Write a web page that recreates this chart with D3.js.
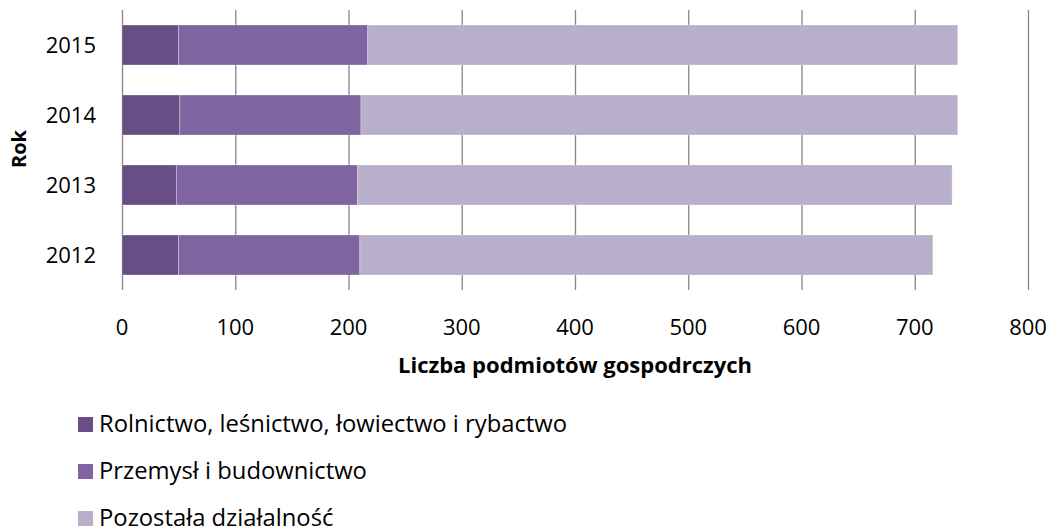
<!DOCTYPE html>
<html><head><meta charset="utf-8">
<script src="https://cdn.jsdelivr.net/npm/d3@7"></script>
<style>body{margin:0;background:#fff}svg{display:block}text{font-family:"Open Sans",sans-serif;fill:#000}</style>
</head><body>
<script>
const years = ["2012","2013","2014","2015"];
const seriesNames = ["Rolnictwo, leśnictwo, łowiectwo i rybactwo","Przemysł i budownictwo","Pozostała działalność"];
const rolnictwo = [50, 48, 51, 50];
const przemysl = [160, 160, 160, 167];
const pozostala = [506, 525, 527, 521];
const xTicks = [0,100,200,300,400,500,600,700,800];
const colors = ["#684E84","#8064A2","#B9AFCA"];

(function(){
const W = 1053, H = 528;
const svg = d3.select("body").append("svg").attr("width", W).attr("height", H);
const mL = 122, mR = 1028, mT = 10, mB = 290;
const x = d3.scaleLinear().domain([0,800]).range([mL,mR]);
const y = d3.scaleBand().domain(years.slice().reverse()).range([mT,mB]).paddingInner(0.4286).paddingOuter(0.2143);

svg.append("g").selectAll("line").data(xTicks).join("line")
  .attr("x1", d=>x(d)+0.5).attr("x2", d=>x(d)+0.5).attr("y1", mT).attr("y2", mB)
  .attr("stroke", "#868686").attr("stroke-width", 1.3);

const data = years.map((yr,i)=>({year:yr, a:rolnictwo[i], b:przemysl[i], c:pozostala[i]}));
const stack = d3.stack().keys(["a","b","c"])(data);
svg.append("g").selectAll("g").data(stack).join("g").attr("fill",(d,i)=>colors[i])
  .selectAll("rect").data(d=>d).join("rect")
  .attr("x", d=>x(d[0])).attr("width", d=>x(d[1])-x(d[0]))
  .attr("y", d=>y(d.data.year)).attr("height", y.bandwidth())
  .attr("stroke","#fff").attr("stroke-opacity",0.35).attr("stroke-width",0.8);

svg.append("g").selectAll("text").data(xTicks).join("text")
  .attr("x", d=>x(d)).attr("y", 335).attr("text-anchor","middle")
  .style("font-size","22px").text(d=>d);
svg.append("g").selectAll("text").data(years).join("text")
  .attr("x", 96).attr("y", d=>y(d)+y.bandwidth()/2+8).attr("text-anchor","end")
  .style("font-size","22px").text(d=>d);

svg.append("text").attr("x", 575).attr("y", 373).attr("text-anchor","middle")
  .style("font-size","22px").style("font-weight","bold").text("Liczba podmiotów gospodrczych");
svg.append("text").attr("transform","translate(26,149) rotate(-90)").attr("text-anchor","middle")
  .style("font-size","20px").style("font-weight","bold").text("Rok");

const lg = svg.append("g").selectAll("g").data(seriesNames).join("g")
  .attr("transform",(d,i)=>`translate(78,${417 + i*47})`);
lg.append("rect").attr("width",15).attr("height",15).attr("fill",(d,i)=>colors[i]);
lg.append("text").attr("x",21).attr("y",15).style("font-size","23.8px").text(d=>d);
})();
</script>
</body></html>
